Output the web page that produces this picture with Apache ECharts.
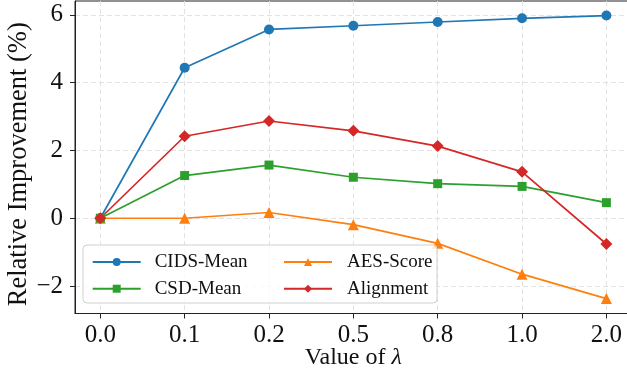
<!DOCTYPE html>
<html>
<head>
<meta charset="utf-8">
<style>
html,body{margin:0;padding:0;background:#fff;}
#chart{width:627px;height:375px;}
</style>
<script src="https://cdn.jsdelivr.net/npm/echarts@6/dist/echarts.min.js"></script>
</head>
<body>
<div id="chart"></div>
<script>
const lambdaLabels = ['0.0', '0.1', '0.2', '0.5', '0.8', '1.0', '2.0'];
const yTicks = [-2, 0, 2, 4, 6];
const cidsMean = [0, 4.44, 5.57, 5.68, 5.79, 5.90, 5.98];
const aesScore = [0, 0.0, 0.17, -0.19, -0.74, -1.65, -2.37];
const csdMean = [0, 1.26, 1.57, 1.21, 1.02, 0.94, 0.46];
const alignment = [0, 2.42, 2.87, 2.58, 2.13, 1.37, -0.76];

const FONT = "'Liberation Serif', 'Times New Roman', serif";
const chart = echarts.init(document.getElementById('chart'), null, {renderer: 'canvas'});
const idx = lambdaLabels.map((_, i) => i);
const toPts = arr => arr.map((v, i) => [i, v]);

function mkSeries(name, data, color, symbol, size) {
  return {
    name: name, type: 'line', data: toPts(data),
    symbol: symbol, symbolSize: size,
    lineStyle: {color: color, width: 1.7},
    itemStyle: {color: color},
    emphasis: {disabled: true},
    animation: false, z: 2
  };
}

function mkLegend(name, left, top, pad) {
  return {
    data: [name], left: left, top: top, padding: 0,
    itemWidth: 48, itemHeight: 10, z: 6,
    selectedMode: false,
    textStyle: {fontFamily: FONT, fontSize: 19, color: '#111', lineHeight: 20, padding: [0, 0, 0, pad]}
  };
}

const option = {
  animation: false,
  backgroundColor: '#fff',
  grid: {left: 75, top: 1, width: 556.7, height: 312.5, containLabel: false, outerBoundsMode: 'none',
    show: true, borderColor: '#222', borderWidth: 1, backgroundColor: 'transparent'},
  xAxis: {
    type: 'value', min: -0.3, max: 6.3,
    name: 'Value of {i|λ}', nameLocation: 'middle', nameGap: 32, nameMoveOverlap: false,
    nameTextStyle: {fontFamily: FONT, fontSize: 24, color: '#111',
      rich: {i: {fontFamily: FONT, fontSize: 24, fontStyle: 'italic', color: '#111'}}},
    axisLine: {show: true, onZero: false, lineStyle: {color: '#222', width: 1}},
    axisTick: {show: true, customValues: idx, length: 5, inside: false, lineStyle: {color: '#222'}},
    axisLabel: {customValues: idx, margin: 9, fontFamily: FONT, fontSize: 25, color: '#111',
      formatter: v => lambdaLabels[Math.round(v)]},
    splitLine: {show: true, lineStyle: {color: '#e2e2e2', type: [5, 3], width: 1}}
  },
  yAxis: {
    type: 'value', min: -2.81, max: 6.41,
    name: 'Relative Improvement (%)', nameLocation: 'middle', nameGap: 42, nameMoveOverlap: false,
    nameTextStyle: {fontFamily: FONT, fontSize: 26.5, color: '#111', padding: [0, 14, 0, 0]},
    axisLine: {show: true, onZero: false, lineStyle: {color: '#222', width: 1}},
    axisTick: {show: true, customValues: yTicks, length: 5, lineStyle: {color: '#222'}},
    axisLabel: {customValues: yTicks, margin: 12, fontFamily: FONT, fontSize: 25, color: '#111',
      formatter: v => String(v).replace('-', '\u2212')},
    splitLine: {show: true, lineStyle: {color: '#e2e2e2', type: [5, 3], width: 1}}
  },
  legend: [
    mkLegend('CIDS-Mean', 91.7, 252, 9),
    mkLegend('CSD-Mean', 91.7, 278.7, 9),
    mkLegend('AES-Score', 283, 252, 10),
    mkLegend('Alignment', 283, 278.7, 10)
  ],
  graphic: [{
    type: 'rect', z: 5,
    shape: {x: 83, y: 245, width: 354, height: 58, r: 4},
    style: {fill: 'rgba(255,255,255,0.8)', stroke: '#d0d0d0', lineWidth: 1}
  }],
  series: [
    mkSeries('CIDS-Mean', cidsMean, '#1f77b4', 'circle', 10),
    mkSeries('AES-Score', aesScore, '#ff7f0e', 'triangle', 11),
    mkSeries('CSD-Mean', csdMean, '#2ca02c', 'rect', 9),
    mkSeries('Alignment', alignment, '#d62728', 'diamond', 12)
  ]
};
chart.setOption(option);
</script>
</body>
</html>
